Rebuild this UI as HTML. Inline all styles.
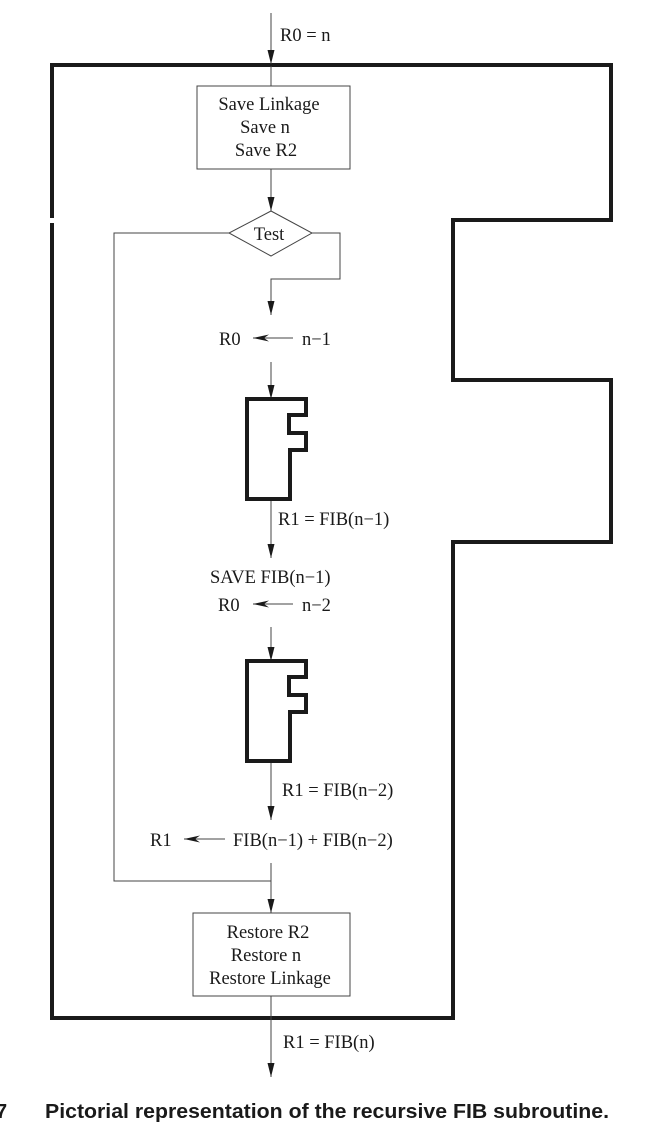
<!DOCTYPE html>
<html><head><meta charset="utf-8"><style>
html,body{margin:0;padding:0;background:#fff;}
svg{display:block;}
.t{font-family:"Liberation Serif",serif;font-size:18.5px;fill:#1a1a1a;}
</style></head><body>
<svg width="662" height="1148" viewBox="0 0 662 1148" xmlns="http://www.w3.org/2000/svg">
<defs>
<marker id="ah" viewBox="0 0 14 7" refX="14" refY="3.5" markerWidth="14" markerHeight="7" markerUnits="userSpaceOnUse" orient="auto"><path d="M0,0 L14,3.5 L0,7 z" fill="#1a1a1a"/></marker>
<marker id="al" viewBox="0 0 16 7" refX="16" refY="3.5" markerWidth="16" markerHeight="7" markerUnits="userSpaceOnUse" orient="auto"><path d="M0,0 L16,3.5 L0,7 L5,3.5 z" fill="#1a1a1a"/></marker>
</defs>
<g fill="none" stroke="#1a1a1a" stroke-width="4">
<path d="M52,218 V65 H611 V220 H453 V380 H611 V542 H453 V1018 H52 V223"/>
</g>
<g stroke="#444" stroke-width="1" fill="none">
<line x1="271" y1="13" x2="271" y2="64" marker-end="url(#ah)"/>
<line x1="271" y1="66" x2="271" y2="86"/>
<rect x="197" y="86" width="153" height="83" fill="#fff"/>
<line x1="271" y1="169" x2="271" y2="211" marker-end="url(#ah)"/>
<polygon points="271,211 312,233 271,256 229,233" fill="#fff"/>
<polyline points="229,233 114,233 114,881 271,881"/>
<polyline points="312,233 340,233 340,279 271,279 271,315" marker-end="url(#ah)"/>
<line x1="271" y1="362" x2="271" y2="399" marker-end="url(#ah)"/>
<line x1="271" y1="499" x2="271" y2="558" marker-end="url(#ah)"/>
<line x1="271" y1="627" x2="271" y2="661" marker-end="url(#ah)"/>
<line x1="271" y1="761" x2="271" y2="820" marker-end="url(#ah)"/>
<line x1="271" y1="863" x2="271" y2="913" marker-end="url(#ah)"/>
<rect x="193" y="913" width="157" height="83" fill="#fff"/>
<line x1="271" y1="996" x2="271" y2="1077" marker-end="url(#ah)"/>
<line x1="293" y1="338" x2="253" y2="338" marker-end="url(#al)"/>
<line x1="293" y1="604" x2="253" y2="604" marker-end="url(#al)"/>
<line x1="225" y1="839" x2="184" y2="839" marker-end="url(#al)"/>
</g>
<g fill="none" stroke="#1a1a1a" stroke-width="4">
<path d="M247,399 H306 V415 H289 V433 H306 V450 H290 V499 H247 Z"/>
<path d="M247,661 H306 V677 H289 V695 H306 V712 H290 V761 H247 Z"/>
</g>
<text class="t" x="280" y="41">R0 = n</text>
<text class="t" x="269" y="110" text-anchor="middle">Save Linkage</text>
<text class="t" x="265" y="133" text-anchor="middle">Save n</text>
<text class="t" x="266" y="156" text-anchor="middle">Save R2</text>
<text class="t" x="269" y="240" text-anchor="middle">Test</text>
<text class="t" x="219" y="345">R0</text>
<text class="t" x="302" y="345">n−1</text>
<text class="t" x="278" y="525">R1 = FIB(n−1)</text>
<text class="t" x="210" y="583">SAVE  FIB(n−1)</text>
<text class="t" x="218" y="611">R0</text>
<text class="t" x="302" y="611">n−2</text>
<text class="t" x="282" y="796">R1 = FIB(n−2)</text>
<text class="t" x="150" y="846">R1</text>
<text class="t" x="233" y="846">FIB(n−1) + FIB(n−2)</text>
<text class="t" x="268" y="938" text-anchor="middle">Restore R2</text>
<text class="t" x="266" y="961" text-anchor="middle">Restore n</text>
<text class="t" x="270" y="984" text-anchor="middle">Restore Linkage</text>
<text class="t" x="283" y="1048">R1 = FIB(n)</text>
<text x="-4" y="1118" font-family="Liberation Sans,sans-serif" font-weight="bold" font-size="20" fill="#1a1a1a">7</text>
<text x="45" y="1118" font-family="Liberation Sans,sans-serif" font-weight="bold" font-size="20" fill="#1a1a1a" textLength="564" lengthAdjust="spacingAndGlyphs">Pictorial representation of the recursive FIB subroutine.</text>
</svg>
</body></html>
